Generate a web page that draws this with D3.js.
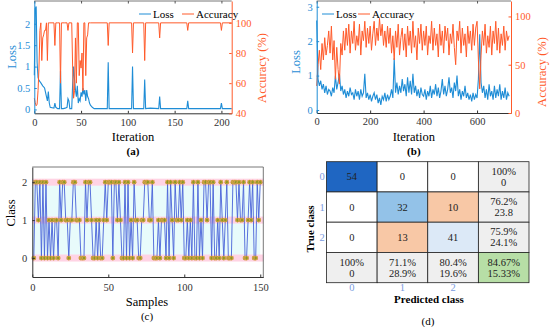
<!DOCTYPE html>
<html>
<head>
<meta charset="utf-8">
<script src="https://cdn.jsdelivr.net/npm/d3@7"></script>
<style>
  body { margin: 0; background: #fff; }
  svg text { font-family: "Liberation Serif", "Times New Roman", serif !important; }
</style>
</head>
<body>
<svg id="fig" width="550" height="327"></svg>
<script>
// ---- data ----
// (a) [iteration, value]
const lossA = [[0,0.8],[1,2.35],[2,2.4],[3,1.1],[4,0.75],[5,0.68],[7,0.62],[9,0.55],[11,0.5],[13,0.3],[14,0.2],[15,0.42],[16,0.15],[17,0.05],[19,0.04],[21,0.03],[22,0.15],[23,0.05],[25,0.02],[27,0.02],[28,0.9],[29,0.02],[31,0.02],[33,0.03],[35,0.05],[36,0.25],[37,0.2],[38,0.02],[40,0.02],[41,0.6],[42,1.0],[43,0.7],[44,0.45],[45,0.3],[46,0.55],[47,0.15],[48,0.25],[49,0.2],[50,0.4],[51,0.3],[52,0.5],[53,0.35],[54,0.45],[55,0.2],[56,0.45],[57,0.3],[58,0.25],[59,0.15],[60,0.1],[62,0.05],[64,0.02],[78,0.02],[79,1.1],[80,0.02],[104,0.02],[105,1.0],[106,0.02],[110,0.02],[117,0.02],[118,0.7],[119,0.02],[124,0.03],[133,0.02],[134,0.3],[135,0.02],[163,0.02],[164,0.2],[165,0.02],[199,0.02],[200,0.15],[201,0.02],[211,0.02]];
const accA = [[0,50],[1,47],[2,45],[3,46],[4,55],[5,70],[6,95],[7,100],[8,75],[9,90],[10,92],[11,95],[12,95],[13,100],[14,75],[15,100],[16,100],[20,100],[21,100],[22,85],[23,100],[25,100],[27,100],[28,60],[29,100],[32,100],[35,100],[36,95],[37,100],[40,100],[41,70],[42,50],[43,55],[44,90],[45,60],[46,100],[47,100],[48,65],[49,75],[50,70],[51,80],[52,55],[53,100],[54,100],[55,65],[56,90],[57,92],[58,100],[60,100],[78,100],[79,85],[80,100],[104,100],[105,80],[106,100],[117,100],[118,75],[119,100],[133,100],[134,90],[135,100],[163,100],[164,95],[165,100],[199,100],[200,95],[201,100],[211,100]];

// (b) one value every 5 iterations, 0..720
const lossB = [2.6,0.9,0.7,0.85,0.6,0.75,0.5,0.7,0.45,0.6,0.55,0.4,0.65,0.5,1.0,0.6,0.8,1.05,0.55,0.7,0.45,0.6,0.35,0.55,0.4,0.65,0.45,0.5,0.3,0.6,0.4,0.55,0.3,0.6,0.4,0.5,1.05,0.35,0.5,0.3,0.45,0.25,0.4,0.5,0.3,0.45,0.2,0.35,0.15,0.4,0.3,0.5,0.25,0.45,0.3,0.4,0.6,0.35,1.5,0.5,0.8,0.45,0.7,0.5,0.9,0.55,0.75,0.4,0.95,0.5,0.85,0.45,1.05,0.5,0.7,0.4,0.6,0.35,0.65,0.45,0.4,0.6,0.3,0.55,0.4,0.7,0.35,0.6,0.45,0.75,0.4,0.65,0.35,0.55,0.9,0.45,0.7,0.4,0.6,0.95,0.5,0.65,0.35,0.8,0.55,1.0,0.4,0.6,0.3,0.55,0.4,0.7,0.35,0.5,0.3,0.45,0.25,0.5,0.3,0.45,0.35,0.9,2.2,0.8,0.5,0.7,0.35,0.6,0.3,0.75,0.4,0.55,0.3,0.7,0.35,0.6,0.4,0.75,0.3,0.55,0.35,0.65,0.3,0.5,0.4];
const accB = [28,50,65,45,72,55,78,60,70,85,62,90,55,75,35,68,45,30,72,60,85,65,88,70,92,62,85,72,95,65,80,70,92,60,85,75,95,68,88,72,90,65,82,95,70,88,75,98,80,92,70,85,68,90,72,88,62,80,55,85,68,92,60,78,88,65,82,58,90,70,85,62,95,68,80,55,88,72,92,65,85,70,90,60,80,72,95,65,88,70,82,58,92,70,85,62,90,75,88,60,82,72,92,68,50,85,75,95,62,88,70,82,58,90,72,85,65,92,70,88,95,55,25,60,85,70,92,62,80,68,90,60,85,72,95,65,88,62,82,70,90,65,85,75,80];

// (c) predicted class for samples 1..150
const classC = [0,2,2,1,2,0,2,0,2,0, 1,0,1,0,1,1,0,2,1,2, 2,1,1,0,1,1,2,2,1,1, 1,0,0,0,2,1,2,2,1,0, 0,1,0,1,0,0,1,2,1,2, 2,2,0,2,2,1,2,1,0,0, 2,0,2,0,1,0,2,1,1,0, 0,1,1,2,2,2,1,1,2,0, 0,0,1,0,1,1,1,0,2,0, 2,1,0,2,1,1,2,1,2,0, 0,1,0,1,0,2,0,0,2,0, 1,0,2,2,1,2,2,0,2,0, 0,1,0,2,1,0,1,2,0,0, 0,2,2,2,1,2,1,1,2,0, 0,1,2,1,2,0,0,2,1,2];

// (d) confusion matrix
const classes = ["0", "1", "2"];
const counts = [[54,0,0],[0,32,10],[0,13,41]];
const rowSummary = [["100%","0"],["76.2%","23.8"],["75.9%","24.1%"]];
const colSummary = [["100%","0"],["71.1%","28.9%"],["80.4%","19.6%"]];
const totalSummary = ["84.67%","15.33%"];

// ---- drawing ----
const svg = d3.select("#fig");
svg.append("rect").attr("width", 550).attr("height", 327).attr("fill", "#fff");

const blue = "#1f8dd6", orange = "#ff5a2a";
const tickFs = "10.5px", labFs = "12.5px";

function styleAxis(g, color) {
  g.selectAll("path.domain").attr("stroke", color);
  g.selectAll(".tick line").attr("stroke", color);
  g.selectAll(".tick text").attr("fill", color).style("font-size", tickFs);
}

function dualPanel(o) {
  const g = svg.append("g");
  const [x0, x1] = o.x.range();
  const [yb, yt] = o.yL.range();
  // frame top
  g.append("line").attr("x1", x0).attr("x2", x1).attr("y1", yt).attr("y2", yt).attr("stroke", "#555").attr("stroke-width", 0.8);

  const line = (xs, ys) => d3.line().x(d => xs(d[0])).y(d => ys(d[1]));
  g.append("path").datum(o.loss).attr("d", line(o.x, o.yL)).attr("fill", "none").attr("stroke", blue).attr("stroke-width", 1.1);
  g.append("path").datum(o.acc).attr("d", line(o.x, o.yR)).attr("fill", "none").attr("stroke", orange).attr("stroke-width", 1);

  const ax = g.append("g").attr("transform", `translate(0,${yb})`)
    .call(d3.axisBottom(o.x).tickValues(o.xt).tickSizeInner(-2.5).tickSizeOuter(0).tickPadding(5).tickFormat(d => d));
  styleAxis(ax, "#333");
  const axT = g.append("g").attr("transform", `translate(0,${yt})`)
    .call(d3.axisTop(o.x).tickValues(o.xt).tickSizeInner(-2.5).tickSizeOuter(0).tickFormat(""));
  styleAxis(axT, "#555");
  axT.select("path.domain").remove();

  const al = g.append("g").attr("transform", `translate(${x0},0)`)
    .call(d3.axisLeft(o.yL).tickValues(o.yLt).tickSizeInner(-2.5).tickSizeOuter(0).tickPadding(4).tickFormat(d => d));
  styleAxis(al, blue);
  const ar = g.append("g").attr("transform", `translate(${x1},0)`)
    .call(d3.axisRight(o.yR).tickValues(o.yRt).tickSizeInner(-2.5).tickSizeOuter(0).tickPadding(4).tickFormat(d => d));
  styleAxis(ar, orange);

  const cx = (x0 + x1) / 2;
  g.append("text").attr("x", cx).attr("y", 141).attr("text-anchor", "middle").style("font-size", labFs).text("Iteration");
  g.append("text").attr("x", cx).attr("y", 155).attr("text-anchor", "middle").style("font-size", "11px").style("font-weight", "bold").text(o.tag);
  g.append("text").attr("transform", `translate(${o.lossLabX},${o.lossLabY}) rotate(-90)`).attr("text-anchor", "middle")
    .attr("fill", blue).style("font-size", labFs).text("Loss");
  g.append("text").attr("transform", `translate(${o.accLabX},${o.accLabY}) rotate(-90)`).attr("text-anchor", "middle")
    .attr("fill", orange).style("font-size", labFs).text("Accuracy (%)");

  // legend
  const lg = g.append("g").attr("transform", `translate(${o.legX},${o.legY})`).style("font-size", "11px");
  lg.append("line").attr("x1", 0).attr("x2", 12).attr("stroke", blue);
  lg.append("text").attr("x", 14).attr("y", 3.5).text("Loss");
  lg.append("line").attr("x1", o.legGap).attr("x2", o.legGap + 12).attr("stroke", orange);
  lg.append("text").attr("x", o.legGap + 14).attr("y", 3.5).text("Accuracy");
}

// (a)
dualPanel({
  x: d3.scaleLinear().domain([0, 211]).range([34.3, 231.7]),
  yL: d3.scaleLinear().domain([-0.09, 2.53]).range([113.3, 1]),
  yR: d3.scaleLinear().domain([40, 114.5]).range([113.3, 1]),
  xt: [0, 50, 100, 150, 200], yLt: [0, 0.5, 1, 1.5, 2], yRt: [40, 60, 80, 100],
  loss: lossA, acc: accA, tag: "(a)",
  lossLabX: 16, lossLabY: 57, accLabX: 266, accLabY: 68,
  legX: 139, legY: 14, legGap: 43
});

// (b)
const itB = d3.range(0, 725, 5);
dualPanel({
  x: d3.scaleLinear().domain([0, 727]).range([316.7, 511]),
  yL: d3.scaleLinear().domain([-0.087, 3.167]).range([113, 1]),
  yR: d3.scaleLinear().domain([0, 116]).range([113, 1]),
  xt: [0, 200, 400, 600], yLt: [0, 1, 2, 3], yRt: [0, 50, 100],
  loss: itB.map((t, i) => [t, lossB[i]]), acc: itB.map((t, i) => [t, accB[i]]), tag: "(b)",
  lossLabX: 300, lossLabY: 62, accLabX: 546, accLabY: 72,
  legX: 322, legY: 14, legGap: 36
});

// (c)
{
  const x = d3.scaleLinear().domain([0, 152]).range([32.3, 263.3]);
  const y = d3.scaleLinear().domain([-0.5, 2.4]).range([277, 167]);
  const g = svg.append("g");
  g.append("rect").attr("x", x(0)).attr("y", y(2)).attr("width", x(150) - x(0)).attr("height", y(0) - y(2)).attr("fill", "#e8fbfb");
  [0, 1, 2].forEach(c => {
    g.append("rect").attr("x", x(0)).attr("y", y(c) - 3.5).attr("width", x(152) - x(0)).attr("height", 7).attr("fill", "#ffd3e4");
  });
  const pts = classC.map((c, i) => [i + 1, c]);
  g.append("path").datum(pts).attr("d", d3.line().x(d => x(d[0])).y(d => y(d[1])))
    .attr("fill", "none").attr("stroke", "#4862d8").attr("stroke-width", 0.9);
  const m = g.selectAll("g.mk").data(pts).join("g").attr("transform", d => `translate(${x(d[0])},${y(d[1])})`);
  m.append("circle").attr("r", 2.4).attr("fill", "#f6a25a");
  m.append("path").attr("d", "M-2.2,0H2.2M0,-2.2V2.2M-1.6,-1.6L1.6,1.6M-1.6,1.6L1.6,-1.6").attr("stroke", "#7f9a1c").attr("stroke-width", 0.7);

  const ax = g.append("g").attr("transform", `translate(0,277)`)
    .call(d3.axisBottom(x).tickValues([0, 50, 100, 150]).tickSizeInner(-2.5).tickSizeOuter(0).tickPadding(7));
  styleAxis(ax, "#333");
  const ay = g.append("g").attr("transform", `translate(32.3,0)`)
    .call(d3.axisLeft(y).tickValues([0, 1, 2]).tickSizeInner(-2.5).tickSizeOuter(0).tickPadding(5).tickFormat(d => d));
  styleAxis(ay, "#333");
  g.append("line").attr("x1", x(0)).attr("x2", x(152)).attr("y1", 167).attr("y2", 167).attr("stroke", "#555").attr("stroke-width", 0.8);
  g.append("line").attr("x1", x(152)).attr("x2", x(152)).attr("y1", 167).attr("y2", 277).attr("stroke", "#555").attr("stroke-width", 0.8);
  g.append("text").attr("x", 147).attr("y", 306).attr("text-anchor", "middle").style("font-size", labFs).text("Samples");
  g.append("text").attr("x", 147).attr("y", 320).attr("text-anchor", "middle").style("font-size", "11px").text("(c)");
  g.append("text").attr("transform", "translate(15,213) rotate(-90)").attr("text-anchor", "middle").style("font-size", labFs).text("Class");
}

// (d)
{
  const cols = [...classes, "sum"];
  const x = d3.scaleBand().domain(cols).range([326.5, 529]);
  const y = d3.scaleBand().domain(cols).range([161.7, 282.7]);
  const g = svg.append("g");
  const blueScale = d3.scaleLinear().domain([0, 41, 54]).range(["#ffffff", "#dce9f7", "#1f66c2"]);
  const cells = [];
  counts.forEach((row, r) => row.forEach((v, c) => {
    let fill = "#fff";
    if (r === c) fill = v === 32 ? "#93c2e8" : blueScale(v);
    else if (v > 0) fill = "#f8c8a6";
    cells.push({ r: classes[r], c: classes[c], fill, lines: [String(v)] });
  }));
  rowSummary.forEach((s, r) => cells.push({ r: classes[r], c: "sum", fill: "#efefef", lines: s }));
  colSummary.forEach((s, c) => cells.push({ r: "sum", c: classes[c], fill: "#efefef", lines: s }));
  cells.push({ r: "sum", c: "sum", fill: "#b7dea6", lines: totalSummary });

  const cg = g.selectAll("g.cell").data(cells).join("g");
  cg.append("rect").attr("x", d => x(d.c)).attr("y", d => y(d.r)).attr("width", x.bandwidth()).attr("height", y.bandwidth())
    .attr("fill", d => d.fill).attr("stroke", "#222").attr("stroke-width", 0.8);
  cg.each(function (d) {
    const t = d3.select(this).append("text").attr("text-anchor", "middle").style("font-size", "10.5px").attr("fill", "#222");
    const cx = x(d.c) + x.bandwidth() / 2, cy = y(d.r) + y.bandwidth() / 2;
    if (d.lines.length === 1) {
      t.attr("x", cx).attr("y", cy + 3.5).text(d.lines[0]);
    } else {
      d.lines.forEach((s, i) => t.append("tspan").attr("x", cx).attr("y", cy - 2 + i * 11).text(s));
    }
  });
  const labCol = "#7b9be0";
  g.selectAll("text.rl").data(classes).join("text").attr("x", 322).attr("y", d => y(d) + y.bandwidth() / 2 + 3.5)
    .attr("text-anchor", "middle").attr("fill", labCol).style("font-size", "10.5px").text(d => d);
  g.selectAll("text.cl").data(classes).join("text").attr("x", d => x(d) + x.bandwidth() / 2).attr("y", 291)
    .attr("text-anchor", "middle").attr("fill", labCol).style("font-size", "10.5px").text(d => d);
  g.append("text").attr("transform", "translate(314,229) rotate(-90)").attr("text-anchor", "middle")
    .style("font-size", "11px").style("font-weight", "bold").text("True class");
  g.append("text").attr("x", 429).attr("y", 303).attr("text-anchor", "middle")
    .style("font-size", "11px").style("font-weight", "bold").text("Predicted class");
  g.append("text").attr("x", 428).attr("y", 325).attr("text-anchor", "middle").style("font-size", "11px").text("(d)");
}
</script>
</body>
</html>
